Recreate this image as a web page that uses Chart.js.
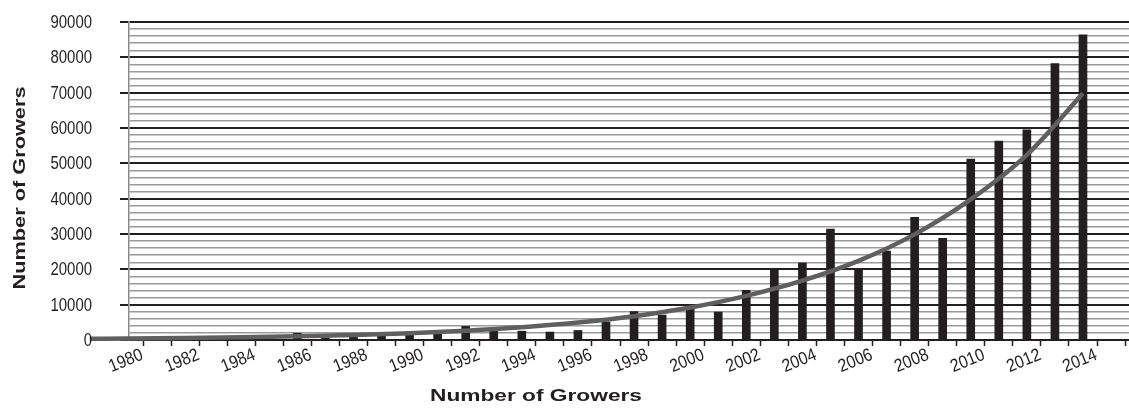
<!DOCTYPE html>
<html>
<head>
<meta charset="utf-8">
<script src="https://cdn.jsdelivr.net/npm/chart.js@4/dist/chart.umd.min.js"></script>
<style>
  html, body { margin: 0; padding: 0; background: #ffffff; }
  #wrap { width: 1129px; height: 408px; position: relative; }
</style>
</head>
<body>
<div id="wrap"><canvas id="chart"></canvas></div>
<script>
// Growers per year
const years = [
  1980, 1981, 1982, 1983, 1984, 1985, 1986, 1987, 1988, 1989,
  1990, 1991, 1992, 1993, 1994, 1995, 1996, 1997, 1998, 1999,
  2000, 2001, 2002, 2003, 2004, 2005, 2006, 2007, 2008, 2009,
  2010, 2011, 2012, 2013, 2014
];
const growers = [
  150, 200, 250, 300, 400, 600, 1900, 650, 750, 1050,
  1600, 1850, 3850, 2600, 2500, 2250, 2700, 5050, 8050, 7050,
  9200, 7900, 14050, 20000, 21800, 31400, 19950, 25200, 34700, 28800,
  51200, 56300, 59450, 78200, 86400
];

// Trend curve, including its short backward extension before 1980
const trendYears = [
  1978.6, 1980, 1982, 1984, 1986, 1988, 1990, 1992, 1994, 1996,
  1998, 2000, 2002, 2004, 2006, 2008, 2010, 2012, 2014
];
const trendValues = [
  330, 400, 550, 760, 1040, 1420, 1940, 2650, 3620, 4940,
  6740, 9200, 12500, 16800, 22400, 29900, 39800, 52400, 69800
];

// Tick labels
const xTickLabels = [
  1980, 1982, 1984, 1986, 1988, 1990, 1992, 1994, 1996,
  1998, 2000, 2002, 2004, 2006, 2008, 2010, 2012, 2014
];
const yTickLabels = [0, 10000, 20000, 30000, 40000, 50000, 60000, 70000, 80000, 90000];

// Axis settings
const yTickStep = 2000;
const yLabelStep = 10000;
const yMax = 90000;
const xMin = 1980;
const xMax = 2015.64;
const axisTitle = 'Number of Growers';

const ink = '#231f20';
const family = "'Liberation Sans', Arial, sans-serif";

// Tick labels in a narrow face, placed from the chart's own scales
const narrowTickLabels = {
  id: 'narrowTickLabels',
  afterDraw(chart) {
    const ctx = chart.ctx;
    const xs = chart.scales.x;
    const ys = chart.scales.y;
    ctx.save();
    ctx.font = '18px ' + family;
    ctx.fillStyle = ink;
    ctx.textBaseline = 'middle';

    ctx.textAlign = 'right';
    yTickLabels.forEach((v) => {
      ctx.save();
      ctx.translate(ys.left + 92, ys.getPixelForValue(v) + 1);
      ctx.scale(0.83, 1);
      ctx.fillText(String(v), 0, 0);
      ctx.restore();
    });

    ctx.textAlign = 'center';
    xTickLabels.forEach((v) => {
      ctx.save();
      ctx.translate(xs.getPixelForValue(v) - 3, xs.top + 21);
      ctx.rotate(-22 * Math.PI / 180);
      ctx.scale(0.88, 1);
      ctx.fillText(String(v), 0, 0);
      ctx.restore();
    });
    ctx.restore();
  }
};

// Axis titles are drawn in a wide, bold face
const wideTitles = {
  id: 'wideTitles',
  afterDraw(chart) {
    const ctx = chart.ctx;
    ctx.save();
    ctx.font = 'bold 16px ' + family;
    ctx.fillStyle = ink;
    ctx.textAlign = 'center';
    ctx.textBaseline = 'middle';
    const w = ctx.measureText(axisTitle).width;

    ctx.save();
    ctx.translate(536, 397);
    ctx.scale(212 / w, 1);
    ctx.fillText(axisTitle, 0, 0);
    ctx.restore();

    ctx.save();
    ctx.translate(21, 188);
    ctx.rotate(-Math.PI / 2);
    ctx.scale(203 / w, 1);
    ctx.fillText(axisTitle, 0, 0);
    ctx.restore();

    ctx.restore();
  }
};

new Chart(document.getElementById('chart'), {
  data: {
    datasets: [
      {
        type: 'line',
        data: trendYears.map((x, i) => ({ x: x, y: trendValues[i] })),
        borderColor: '#5f5f5f',
        borderWidth: 4.5,
        pointRadius: 0,
        tension: 0.4,
        cubicInterpolationMode: 'monotone',
        clip: false,
        order: 1
      },
      {
        type: 'bar',
        data: years.map((x, i) => ({ x: x, y: growers[i] })),
        backgroundColor: ink,
        barThickness: 8,
        order: 2
      }
    ]
  },
  plugins: [narrowTickLabels, wideTitles],
  options: {
    responsive: true,
    maintainAspectRatio: false,
    animation: false,
    layout: { padding: { top: 22, right: 0, bottom: 0, left: 0 } },
    plugins: {
      legend: { display: false },
      tooltip: { enabled: false }
    },
    scales: {
      x: {
        type: 'linear',
        min: xMin,
        max: xMax,
        offset: false,
        border: { color: ink, width: 2 },
        grid: {
          drawOnChartArea: false,
          drawTicks: true,
          tickLength: 6,
          tickColor: ink,
          tickWidth: 1.5
        },
        ticks: {
          stepSize: 1,
          includeBounds: false,
          autoSkip: false,
          display: false
        },
        afterFit: (s) => {
          s.height = 68;
          s.paddingLeft = 0;
          s.paddingRight = 0;
        }
      },
      y: {
        min: 0,
        max: yMax,
        border: { color: '#8a8a8a', width: 1.5 },
        grid: {
          color: (c) => (c.tick && c.tick.value % yLabelStep === 0 ? ink : '#9a9a9a'),
          lineWidth: (c) => (c.tick && c.tick.value % yLabelStep === 0 ? 2 : 1.5),
          tickColor: (c) => (c.tick && c.tick.value % yLabelStep === 0 ? ink : 'rgba(0,0,0,0)'),
          tickLength: 9,
          tickWidth: 2
        },
        ticks: {
          stepSize: yTickStep,
          autoSkip: false,
          display: false
        },
        afterFit: (s) => {
          s.width = 129;
          s.paddingTop = 0;
          s.paddingBottom = 0;
        }
      }
    }
  }
});
</script>
</body>
</html>
